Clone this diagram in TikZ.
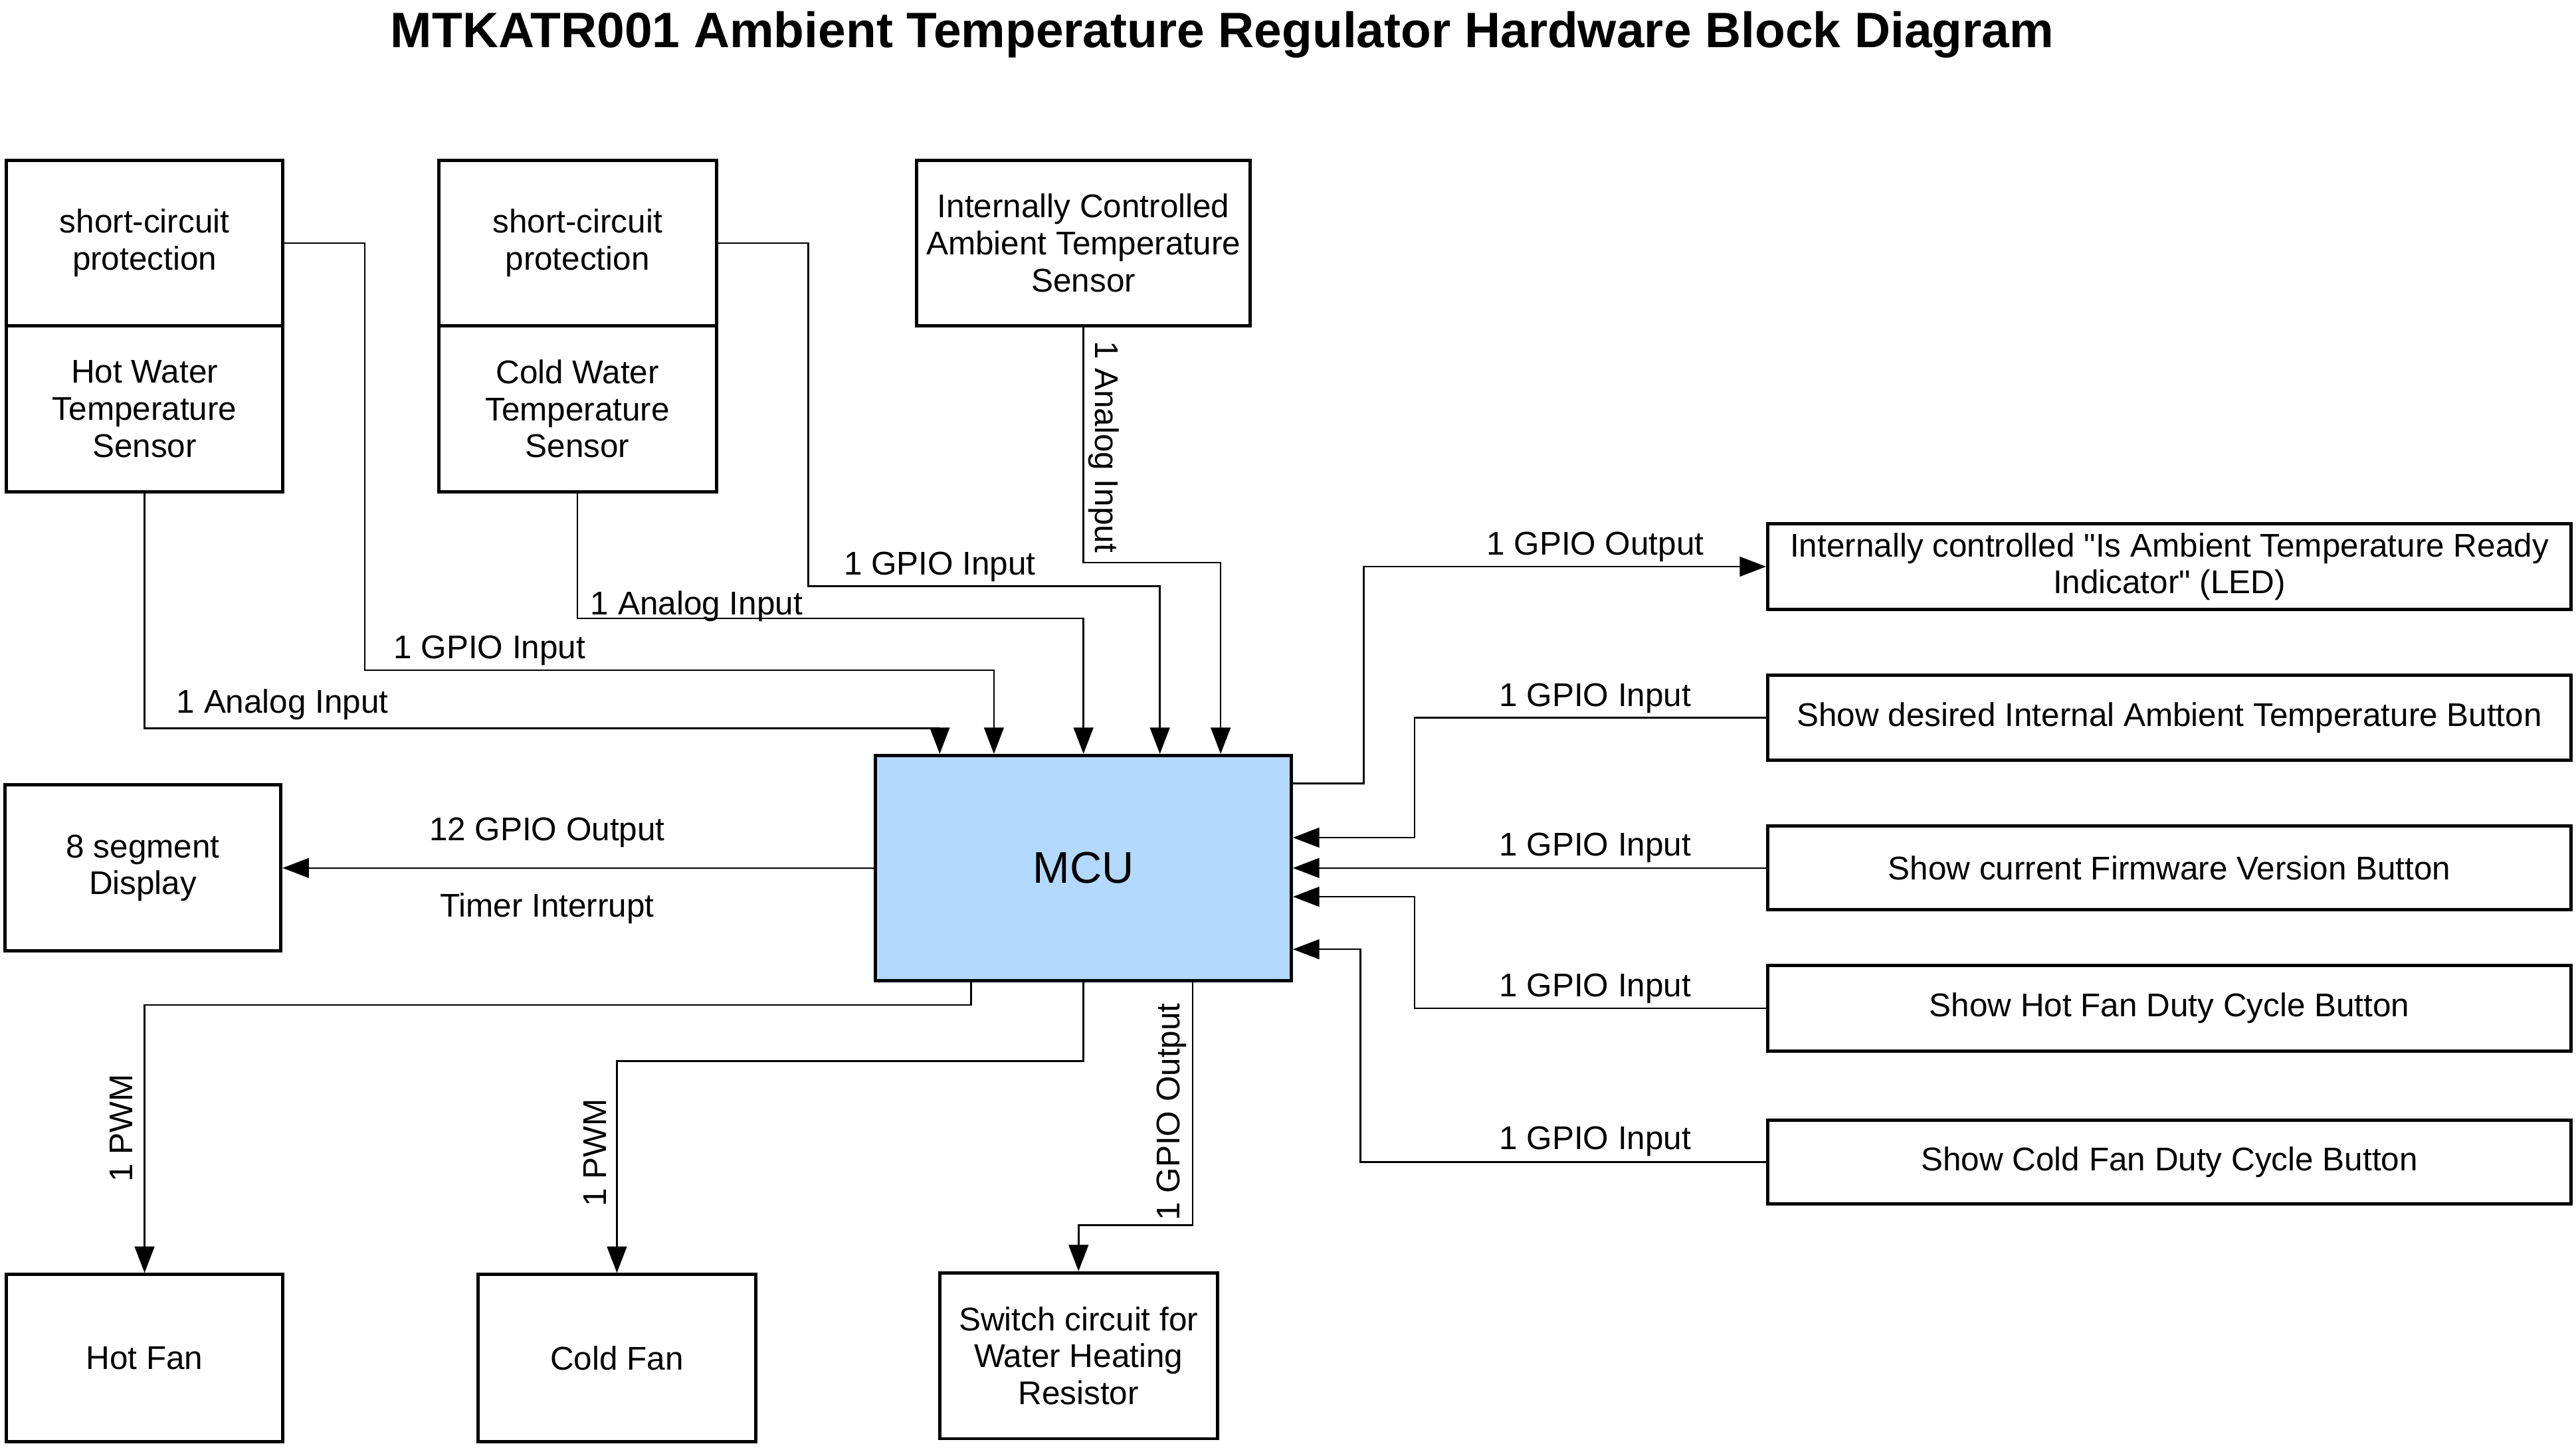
\documentclass[tikz,border=0pt]{standalone}
\usepackage{fontspec}
\setmainfont{Liberation Sans}
\usetikzlibrary{arrows.meta}
\definecolor{mcublue}{RGB}{179,217,255}
\tikzset{
  box/.style={draw,line width=2pt,align=center,inner sep=0pt,font=\fontsize{20}{22.5}\selectfont},
  link/.style={line width=1pt},
  arr/.style={link,-{Triangle[length=16pt,width=12pt]}},
  lbl/.style={inner sep=0pt,yshift=-2pt,font=\fontsize{20}{24}\selectfont}
}
\begin{document}
\begin{tikzpicture}[x=1pt,y=-1pt]
\useasboundingbox (0,0) rectangle (1568,881.3);
\node[font=\bfseries\fontsize{30.3}{34}\selectfont] (title) at (744,21) {MTKATR001 Ambient Temperature Regulator Hardware Block Diagram};
\node[box,minimum width=168,minimum height=101] (hotprot) at (88,148) {short-circuit\\protection};
\node[box,minimum width=168,minimum height=101] (hotsens) at (88,249) {Hot Water\\Temperature\\Sensor};
\node[box,minimum width=169,minimum height=101] (coldprot) at (351.5,148) {short-circuit\\protection};
\node[box,minimum width=169,minimum height=101] (coldsens) at (351.5,249) {Cold Water\\Temperature\\Sensor};
\node[box,minimum width=203,minimum height=101] (intsens) at (659.5,148) {Internally Controlled\\Ambient Temperature\\Sensor};
\node[box,minimum width=489,minimum height=52] (led) at (1320.5,345) {Internally controlled \textquotedbl Is Ambient Temperature Ready\\Indicator\textquotedbl{} (LED)};
\node[box,minimum width=489,minimum height=52] (btndes) at (1320.5,437) {Show desired Internal Ambient Temperature Button};
\node[box,minimum width=489,minimum height=51] (btnfw) at (1320.5,528.5) {Show current Firmware Version Button};
\node[box,minimum width=489,minimum height=52] (btnhot) at (1320.5,614) {Show Hot Fan Duty Cycle Button};
\node[box,minimum width=489,minimum height=51] (btncold) at (1320.5,707.5) {Show Cold Fan Duty Cycle Button};
\node[box,fill=mcublue,minimum width=253,minimum height=137,font=\fontsize{27}{30}\selectfont] (mcu) at (659.5,528.5) {MCU};
\node[box,minimum width=168,minimum height=101] (seg) at (87,528.5) {8 segment\\Display};
\node[box,minimum width=168,minimum height=102] (hotfan) at (88,827) {Hot Fan};
\node[box,minimum width=169,minimum height=102] (coldfan) at (375.5,827) {Cold Fan};
\node[box,minimum width=169,minimum height=101] (switch) at (656.5,825.5) {Switch circuit for\\Water Heating\\Resistor};

\draw[arr] (hotsens.south) -- ++(0,143) -| ([xshift=40pt]mcu.north west);
\draw[arr] (hotprot.east) -| ++(49,260) -| ([xshift=73pt]mcu.north west);
\draw[arr] (coldsens.south) -- ++(0,76) -| (mcu.north);
\draw[arr] (coldprot.east) -| ++(55,209) -| ([xshift=174pt]mcu.north west);
\draw[arr] (intsens.south) -- ++(0,143) -| ([xshift=211pt]mcu.north west);
\draw[arr] ([yshift=-18pt]mcu.north east) -- ++(43,0) |- (led.west);
\draw[arr] (btndes.west) -- ++(-214,0) |- ([yshift=-51pt]mcu.north east);
\draw[arr] (btnfw.west) -- (mcu.east);
\draw[arr] (btnhot.west) -- ++(-214,0) |- ([yshift=-87pt]mcu.north east);
\draw[arr] (btncold.west) -- ++(-247,0) |- ([yshift=-119pt]mcu.north east);
\draw[arr] (mcu.west) -- (seg.east);
\draw[arr] ([xshift=59pt]mcu.south west) -- ++(0,14) -| (hotfan.north);
\draw[arr] (mcu.south) -- ++(0,48) -| (coldfan.north);
\draw[arr] ([xshift=194pt]mcu.south west) -- ++(0,148) -| (switch.north);

\node[lbl] (lhotan) at (172,427) {1 Analog Input};
\node[lbl] (lhotgp) at (298,394) {1 GPIO Input};
\node[lbl] (lcoldan) at (424,367) {1 Analog Input};
\node[lbl] (lcoldgp) at (572,343) {1 GPIO Input};
\node[lbl,rotate=-90] (lintan) at (672,270) {1 Analog Input};
\node[lbl] (lled) at (971,331) {1 GPIO Output};
\node[lbl] (ldes) at (971,423) {1 GPIO Input};
\node[lbl] (lfw) at (971,514) {1 GPIO Input};
\node[lbl] (lhot) at (971,600) {1 GPIO Input};
\node[lbl] (lcold) at (971,693) {1 GPIO Input};
\node[lbl] (lseg) at (333,505) {12 GPIO Output};
\node[lbl] (ltimer) at (333,551) {Timer Interrupt};
\node[lbl,rotate=90] (lhotfan) at (74,685) {1 PWM};
\node[lbl,rotate=90] (lcoldfan) at (362,700) {1 PWM};
\node[lbl,rotate=90] (lswitch) at (713,675) {1 GPIO Output};
\end{tikzpicture}
\end{document}
